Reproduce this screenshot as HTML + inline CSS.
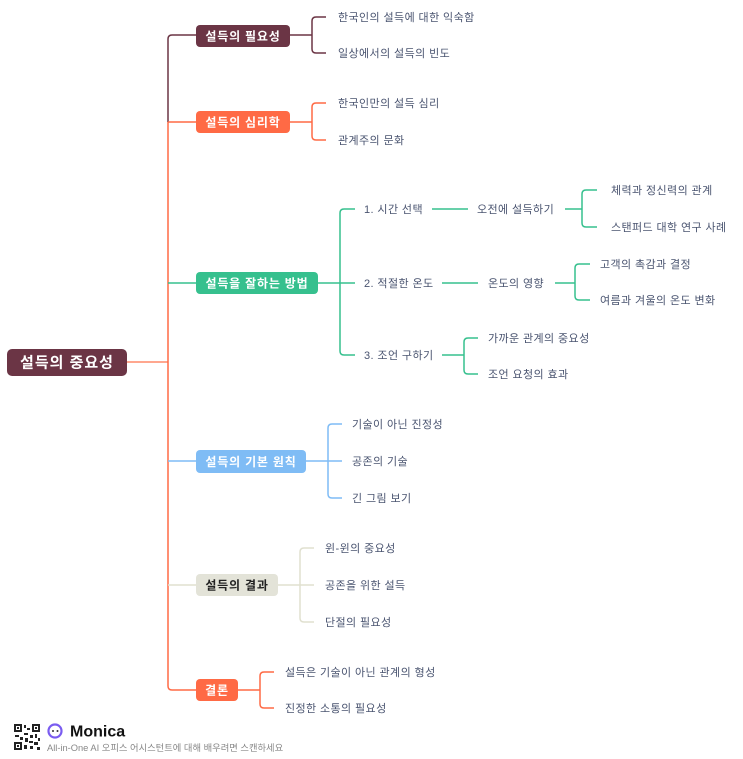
<!DOCTYPE html>
<html><head><meta charset="utf-8"><style>
html,body{margin:0;padding:0;background:#fff;width:743px;height:759px;overflow:hidden}
svg{display:block}
text{font-family:"Liberation Sans","Noto Sans CJK KR",sans-serif;dominant-baseline:central}
.c{font-size:11px;fill:#4a5470;letter-spacing:0.4px}
.b{font-size:12px;font-weight:bold;fill:#fff;letter-spacing:0.8px}
</style></head><body>
<svg width="743" height="759" viewBox="0 0 743 759" xmlns="http://www.w3.org/2000/svg" fill="none" stroke-width="1.5">
<path d="M127 362 H168" stroke="#ff8a6a"/>
<path d="M196 35 H172 Q168 35 168 39 V122" stroke="#6b3545"/>
<path d="M168 122 V686 Q168 690 172 690 H196" stroke="#ff6a45"/>
<path d="M168 122 H196" stroke="#ff6a45"/>
<path d="M168 283 H196" stroke="#36c08e"/>
<path d="M168 461 H196" stroke="#7fbcf5"/>
<path d="M168 585 H196" stroke="#e0e0cf"/>

<path d="M290 35 H312 M326 17 H316 Q312 17 312 21 V49 Q312 53 316 53 H326" stroke="#6b3545"/>
<path d="M290 122 H312 M326 103 H316 Q312 103 312 107 V136 Q312 140 316 140 H326" stroke="#ff6a45"/>
<g stroke="#36c08e">
<path d="M318 283 H340 M355 209 H344 Q340 209 340 213 V351 Q340 355 344 355 H355 M340 283 H355"/>
<path d="M432 209 H468"/>
<path d="M565 209 H582 M597 190 H586 Q582 190 582 194 V223 Q582 227 586 227 H597"/>
<path d="M442 283 H478"/>
<path d="M555 283 H575 M590 264 H579 Q575 264 575 268 V296 Q575 300 579 300 H590"/>
<path d="M442 355 H464 M478 338 H468 Q464 338 464 342 V370 Q464 374 468 374 H478"/>
</g>
<path d="M306 461 H328 M342 424 H332 Q328 424 328 428 V494 Q328 498 332 498 H342 M328 461 H342" stroke="#7fbcf5"/>
<path d="M278 585 H300 M314 548 H304 Q300 548 300 552 V618 Q300 622 304 622 H314 M300 585 H314" stroke="#e0e0cf"/>
<path d="M238 690 H260 M274 672 H264 Q260 672 260 676 V704 Q260 708 264 708 H274" stroke="#ff6a45"/>

<rect x="7" y="349" width="120" height="27" rx="5" fill="#6b3545"/>
<text x="67" y="363" text-anchor="middle" style="font-size:15px;font-weight:bold;fill:#fff;letter-spacing:1px">설득의 중요성</text>

<rect x="196" y="25" width="94" height="22" rx="4" fill="#6b3545"/>
<text class="b" x="243" y="36.5" text-anchor="middle">설득의 필요성</text>
<rect x="196" y="111" width="94" height="22" rx="4" fill="#ff6a45"/>
<text class="b" x="243" y="122.5" text-anchor="middle">설득의 심리학</text>
<rect x="196" y="272" width="122" height="22" rx="4" fill="#36c08e"/>
<text class="b" x="257" y="283.5" text-anchor="middle">설득을 잘하는 방법</text>
<rect x="196" y="450" width="110" height="23" rx="4" fill="#7fbcf5"/>
<text class="b" x="251" y="462" text-anchor="middle">설득의 기본 원칙</text>
<rect x="196" y="574" width="82" height="22" rx="4" fill="#e3e3d8"/>
<text class="b" x="237" y="585.5" text-anchor="middle" style="fill:#222">설득의 결과</text>
<rect x="196" y="679" width="42" height="22" rx="4" fill="#ff6a45"/>
<text class="b" x="217" y="690.5" text-anchor="middle">결론</text>

<g transform="translate(0,1)">
<text class="c" x="338" y="17">한국인의 설득에 대한 익숙함</text>
<text class="c" x="338" y="53">일상에서의 설득의 빈도</text>
<text class="c" x="338" y="103">한국인만의 설득 심리</text>
<text class="c" x="338" y="140">관계주의 문화</text>
<text class="c" x="364" y="209">1. 시간 선택</text>
<text class="c" x="477" y="209">오전에 설득하기</text>
<text class="c" x="611" y="190">체력과 정신력의 관계</text>
<text class="c" x="611" y="227">스탠퍼드 대학 연구 사례</text>
<text class="c" x="364" y="283">2. 적절한 온도</text>
<text class="c" x="488" y="283">온도의 영향</text>
<text class="c" x="600" y="264">고객의 촉감과 결정</text>
<text class="c" x="600" y="300">여름과 겨울의 온도 변화</text>
<text class="c" x="364" y="355">3. 조언 구하기</text>
<text class="c" x="488" y="338">가까운 관계의 중요성</text>
<text class="c" x="488" y="374">조언 요청의 효과</text>
<text class="c" x="352" y="424">기술이 아닌 진정성</text>
<text class="c" x="352" y="461">공존의 기술</text>
<text class="c" x="352" y="498">긴 그림 보기</text>
<text class="c" x="325" y="548">윈-윈의 중요성</text>
<text class="c" x="325" y="585">공존을 위한 설득</text>
<text class="c" x="325" y="622">단절의 필요성</text>
<text class="c" x="285" y="672">설득은 기술이 아닌 관계의 형성</text>
<text class="c" x="285" y="708">진정한 소통의 필요성</text>
</g>

<g fill="#222" stroke="none">
<rect x="14" y="724" width="26" height="26" fill="#fff"/>
<rect x="14" y="724" width="8" height="8"/><rect x="16" y="726" width="4" height="4" fill="#fff"/><rect x="17" y="727" width="2" height="2"/>
<rect x="32" y="724" width="8" height="8"/><rect x="34" y="726" width="4" height="4" fill="#fff"/><rect x="35" y="727" width="2" height="2"/>
<rect x="14" y="742" width="8" height="8"/><rect x="16" y="744" width="4" height="4" fill="#fff"/><rect x="17" y="745" width="2" height="2"/>
<rect x="24" y="725" width="2" height="3"/><rect x="27" y="728" width="3" height="2"/><rect x="24" y="733" width="4" height="2"/>
<rect x="30" y="735" width="3" height="3"/><rect x="35" y="734" width="2" height="4"/><rect x="15" y="735" width="4" height="2"/>
<rect x="20" y="737" width="3" height="3"/><rect x="25" y="738" width="3" height="4"/><rect x="29" y="741" width="4" height="2"/>
<rect x="34" y="742" width="4" height="3"/><rect x="24" y="745" width="3" height="4"/><rect x="30" y="746" width="3" height="3"/>
<rect x="37" y="747" width="3" height="3"/><rect x="38" y="738" width="2" height="3"/>
</g>
<circle cx="55" cy="731" r="6.5" stroke="#7a5cf0" stroke-width="2.2"/>
<circle cx="53" cy="731" r="1" fill="#333" stroke="none"/><circle cx="57.5" cy="731" r="1" fill="#333" stroke="none"/>
<text x="70" y="732" style="font-size:16px;font-weight:bold;fill:#111">Monica</text>
<text x="47" y="748" style="font-size:9.3px;fill:#888">All-in-One AI 오피스 어시스턴트에 대해 배우려면 스캔하세요</text>
</svg>
</body></html>
